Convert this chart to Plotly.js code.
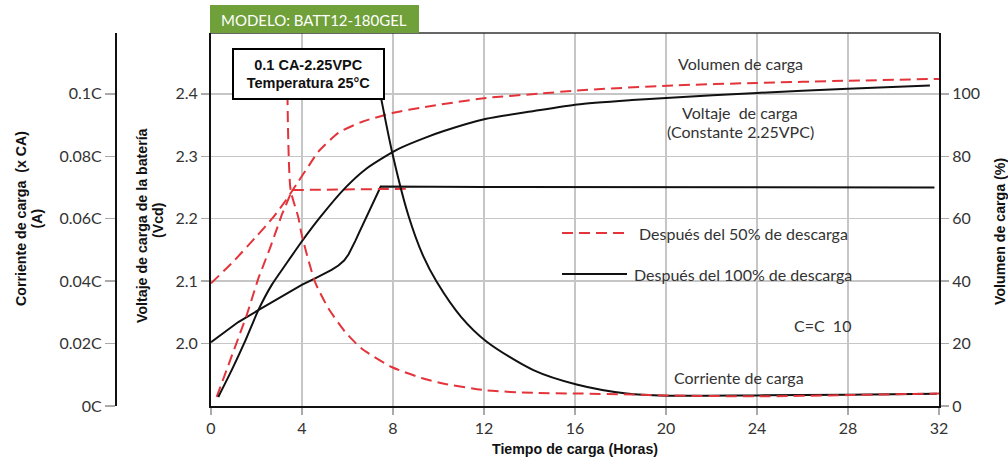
<!DOCTYPE html>
<html>
<head>
<meta charset="utf-8">
<script src="https://cdn.plot.ly/plotly-3.0.1.min.js"></script>
<style>html,body{margin:0;padding:0;background:#fff;}#chart{width:1008px;height:462px;}</style>
</head>
<body>
<div id="chart"></div>
<script>
// ---- Data ----
// Charge current (x CA) after 50% discharge
const tCur50 = [3.36, 3.5, 3.84, 3.99, 4.57, 5.16, 5.89, 6.62, 7.94, 9.33, 10.2, 12.1, 14.2, 16.1, 18.5, 20, 24, 28, 32];
const cur50  = [0.100, 0.0692, 0.0604, 0.0548, 0.0398, 0.0313, 0.0238, 0.0184, 0.0125, 0.0088, 0.0072, 0.0050, 0.0042, 0.0040, 0.0037, 0.0034, 0.0031, 0.0035, 0.0040];
// Charge current (x CA) after 100% discharge
const tCur100 = [7.44, 7.99, 8.67, 9.33, 9.92, 11.0, 12.12, 14.17, 16.07, 18.27, 20, 24, 28, 31.9];
const cur100  = [0.100, 0.0804, 0.0612, 0.0480, 0.0398, 0.0285, 0.0206, 0.0115, 0.0069, 0.0040, 0.0033, 0.0034, 0.0036, 0.0039];
// Charge voltage (V/cell) after 100% discharge
const tVolt100 = [0, 1.2, 2.08, 3.0, 3.99, 4.6, 5.3, 5.6, 5.85, 6.05, 6.2, 6.35, 6.5, 7.46, 12, 20, 31.8];
const volt100  = [2.002, 2.0345, 2.0535, 2.073, 2.094, 2.105, 2.118, 2.125, 2.133, 2.143, 2.153, 2.165, 2.177, 2.2515, 2.251, 2.2505, 2.250];
// Charge voltage (V/cell) after 50% discharge
const tVolt50 = [0.25, 1.05, 1.57, 2.08, 2.59, 3.11, 3.57, 8.8];
const volt50  = [1.9145, 1.992, 2.0455, 2.1045, 2.1525, 2.206, 2.246, 2.248];
// Charge volume (%) after 100% discharge
const tVol100 = [0.32, 0.91, 1.49, 2.08, 2.67, 3.3, 3.99, 4.8, 5.89, 6.77, 7.79, 8.31, 9.4, 10.2, 12.1, 14.2, 16.1, 18.5, 20, 24, 28, 31.6];
const vol100  = [2.9, 11.5, 20.6, 30.7, 38.8, 45.5, 52.7, 60.5, 69.8, 75.7, 80.5, 82.6, 85.9, 88.0, 92.0, 94.5, 96.6, 98.0, 98.7, 100.3, 101.6, 102.7];
// Charge volume (%) after 50% discharge
const tVol50 = [0, 1.05, 1.93, 2.74, 3.3, 3.8, 4.3, 4.72, 5.6, 6.62, 7.94, 9.4, 12.1, 14.5, 16.1, 20.3, 24, 28, 32];
const vol50  = [39.3, 46.8, 53.8, 60.5, 66, 71.5, 77, 81.5, 87.5, 91, 93.8, 95.8, 98.7, 100.1, 101.1, 102.7, 103.5, 104.2, 104.8];

// Tick labels
const xTicks = [0, 4, 8, 12, 16, 20, 24, 28, 32];
const voltTicks = [2.0, 2.1, 2.2, 2.3, 2.4];
const voltTickText = ['2.0', '2.1', '2.2', '2.3', '2.4'];
const curTicks = [0, 0.02, 0.04, 0.06, 0.08, 0.1];
const curTickText = ['0C', '0.02C', '0.04C', '0.06C', '0.08C', '0.1C'];
const volTicks = [0, 20, 40, 60, 80, 100, 120];

// ---- Layout helpers ----
const L = 100, R = 939, T = 33, B = 406;
const px = x => (x - L) / (R - L);
const py = y => (B - y) / (B - T);

const RED = '#e2343a', BLACK = '#111111', GRID = '#c6c6c6';
const NUM_FONT = {family: 'Lato, "Open Sans", sans-serif', size: 16, color: '#333'};
const TITLE_FONT = {family: '"Liberation Sans", Arial, sans-serif', size: 14.2, color: '#111'};

const dash = {color: RED, width: 2, dash: '11px,6px'};
const solid = {color: BLACK, width: 2};
const sp = (o, s) => Object.assign({shape: 'spline', smoothing: s}, o);

const traces = [
  {x: tCur100, y: cur100, yaxis: 'y3', mode: 'lines', line: sp(solid, 0.8)},
  {x: tCur50, y: cur50, yaxis: 'y3', mode: 'lines', line: sp(dash, 0.6)},
  {x: tVolt100, y: volt100, yaxis: 'y', mode: 'lines', line: solid},
  {x: tVolt50, y: volt50, yaxis: 'y', mode: 'lines', line: dash},
  {x: tVol100, y: vol100, yaxis: 'y2', mode: 'lines', line: sp(solid, 0.6)},
  {x: tVol50, y: vol50, yaxis: 'y2', mode: 'lines', line: sp(dash, 0.6)}
];

const pctTop = 119.5;
const ann = (text, x, y, extra) => Object.assign({text: text, xref: 'paper', yref: 'paper', x: px(x), y: py(y),
  xanchor: 'center', yanchor: 'middle', showarrow: false, font: NUM_FONT}, extra || {});

const layout = {
  width: 1008, height: 462,
  margin: {l: L, r: 1008 - R, t: T, b: 462 - B, pad: 0},
  paper_bgcolor: '#fff', plot_bgcolor: '#fff',
  showlegend: false,
  xaxis: {
    domain: [px(211), 1], range: [0, 32], tickvals: xTicks, ticktext: xTicks.map(String),
    showgrid: true, gridcolor: GRID, gridwidth: 1.5, zeroline: false,
    showline: true, linecolor: BLACK, linewidth: 2,
    ticks: 'outside', ticklen: 7, tickcolor: '#aaa', tickwidth: 1.5,
    tickfont: NUM_FONT, fixedrange: true
  },
  yaxis: {
    range: [1.9, 1.9 + pctTop * 0.005], tickvals: voltTicks, ticktext: voltTickText,
    showgrid: true, gridcolor: GRID, gridwidth: 1.5, zeroline: false,
    showline: true, linecolor: BLACK, linewidth: 2,
    ticks: 'outside', ticklen: 8, tickcolor: '#aaa', tickwidth: 1.5,
    tickfont: NUM_FONT, fixedrange: true
  },
  yaxis2: {
    overlaying: 'y', side: 'right', range: [0, pctTop], tickvals: volTicks, ticktext: volTicks.map(String),
    showgrid: false, zeroline: false, showline: true, linecolor: BLACK, linewidth: 2,
    ticks: 'outside', ticklen: 8, tickcolor: '#aaa', tickwidth: 1.5,
    tickfont: NUM_FONT, fixedrange: true
  },
  yaxis3: {
    overlaying: 'y', side: 'left', anchor: 'free', position: px(116), range: [0, pctTop / 1000],
    tickvals: curTicks, ticktext: curTickText,
    showgrid: false, zeroline: false, showline: true, linecolor: BLACK, linewidth: 2,
    ticks: 'outside', ticklen: 10, tickcolor: '#aaa', tickwidth: 1.5,
    tickfont: NUM_FONT, fixedrange: true
  },
  shapes: [
    // 0.1C / 2.4 V reference line
    {type: 'line', xref: 'x', yref: 'y', x0: 0, x1: 32, y0: 2.4, y1: 2.4, line: {color: '#222', width: 1.2}, layer: 'below'},
    // top frame
    {type: 'line', xref: 'paper', yref: 'paper', x0: px(211), x1: 1, y0: 1, y1: 1, line: {color: '#333', width: 1.5}},
    // green model banner
    {type: 'rect', xref: 'paper', yref: 'paper', x0: px(210), x1: px(419), y0: py(5), y1: py(33), fillcolor: '#6fa03a', line: {width: 0}},
    // legend samples
    {type: 'line', xref: 'paper', yref: 'paper', x0: px(562), x1: px(628), y0: py(233), y1: py(233), line: dash},
    {type: 'line', xref: 'paper', yref: 'paper', x0: px(562), x1: px(627), y0: py(274), y1: py(274), line: solid}
  ],
  annotations: [
    ann('MODELO: BATT12-180GEL', 219, 19.5, {xanchor: 'left', font: {family: 'Lato, "Open Sans", sans-serif', size: 15, color: '#fff'}}),
    ann('<b>0.1 CA-2.25VPC</b><br><b>Temperatura 25°C</b>', 308.3, 74, {bgcolor: '#fff', bordercolor: '#000', borderwidth: 2, borderpad: 2,
      width: 145, height: 44, font: Object.assign({}, TITLE_FONT, {size: 14.5})}),
    ann('Volumen de carga', 740.5, 63),
    ann('Voltaje  de carga', 740, 112),
    ann('(Constante 2.25VPC)', 740, 131),
    ann('Después del 50% de descarga', 637, 233, {xanchor: 'left'}),
    ann('Después del 100% de descarga', 632, 274, {xanchor: 'left'}),
    ann('C=C  10', 822, 325),
    ann('Corriente de carga', 738.5, 377),
    // axis titles
    ann('<b>Corriente de carga  (x CA)</b>', 21, 219, {textangle: -90, font: TITLE_FONT}),
    ann('<b>(A)</b>', 36.5, 219, {textangle: -90, font: TITLE_FONT}),
    ann('<b>Voltaje de carga de la batería</b>', 142, 226, {textangle: -90, font: TITLE_FONT}),
    ann('<b>(Vcd)</b>', 158, 220, {textangle: -90, font: TITLE_FONT}),
    ann('<b>Volumen de carga (%)</b>', 1000, 232, {textangle: -90, font: TITLE_FONT}),
    ann('<b>Tiempo de carga (Horas)</b>', 575, 449, {font: TITLE_FONT})
  ]
};

Plotly.newPlot('chart', traces, layout, {staticPlot: true, displayModeBar: false});
</script>
</body>
</html>
